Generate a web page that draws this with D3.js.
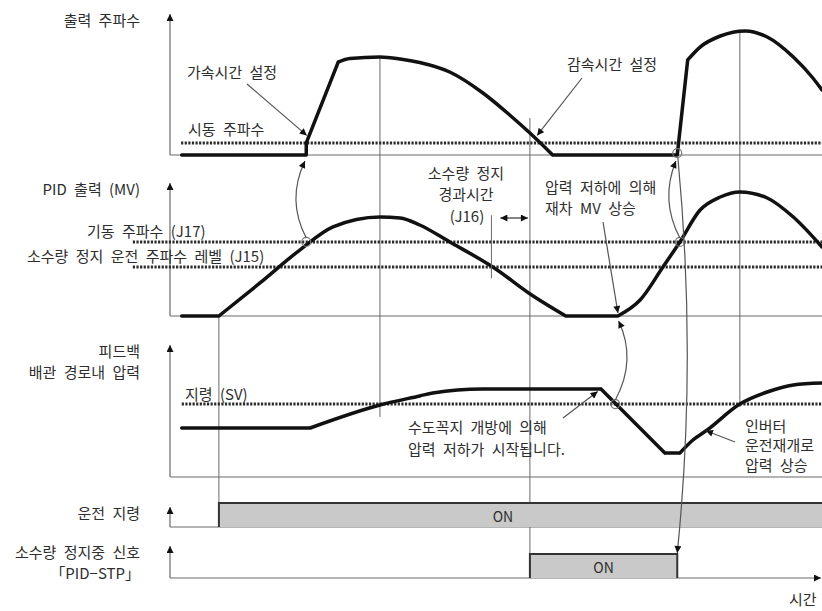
<!DOCTYPE html>
<html>
<head>
<meta charset="utf-8">
<script src="https://cdn.jsdelivr.net/npm/d3@7"></script>
<style>
  html, body { margin: 0; padding: 0; background: #fff; }
  svg { display: block; }
  text { font-family: "Noto Sans CJK KR", "Noto Sans", sans-serif; fill: #2e2e2e; font-size: 15px; word-spacing: 4px; }
</style>
</head>
<body>
<svg id="chart" width="822" height="611"></svg>
<script>
// Time runs in arbitrary units; signal levels are percent of a track's height.
const timeDomain = [0, 100];

const trackLabels = [
  ["출력 주파수"],
  ["PID 출력 (MV)"],
  ["피드백", "배관 경로내 압력"],
  ["운전 지령"],
  ["소수량 정지중 신호", "「PID−STP」"]
];

// [time, level, sharp corner (1) or smooth point (0)]
const outputFreq = [
  [1.8, 0, 1], [20.9, 0, 1], [20.9, 8.6, 1], [25.8, 66.4, 1],
  [27.6, 68.9, 0], [32.2, 70, 0], [35.3, 68.6, 0], [38.3, 66.1, 0],
  [42.9, 59.3, 0], [48.0, 44.3, 0], [52.1, 28.6, 0], [55.2, 15.7, 0],
  [58.7, 0, 1], [77.8, 0, 1], [79.4, 67.9, 1], [81.3, 77.1, 0],
  [84.4, 85, 0], [88.2, 88.6, 0], [91.6, 84.3, 0], [95.6, 70, 0],
  [98.6, 55, 0], [100, 46.4, 1]
];

const pidOutput = [
  [1.8, 0, 1], [7.5, 0, 1], [13.8, 23.6, 0], [19.9, 47.1, 0],
  [25.0, 63.6, 0], [32.2, 70.7, 0], [35.3, 70, 0], [38.3, 65, 0],
  [42.9, 52.9, 0], [49.5, 35, 0], [55.7, 14.3, 0], [60.7, 0, 1],
  [68.7, 0, 1], [72.1, 11.4, 0], [75.6, 35, 0], [78.2, 52.9, 0],
  [81.3, 75.7, 0], [84.4, 85, 0], [87.4, 88.6, 0], [91.6, 84.3, 0],
  [95.6, 70.7, 0], [100, 49.3, 1]
];

const feedbackPressure = [
  [1.8, 35, 1], [21.5, 35, 1], [32.2, 51.4, 0], [38.3, 57.9, 0],
  [40.3, 60, 0], [47.9, 62.9, 0], [66.1, 62.9, 1], [75.9, 17.1, 1],
  [78.2, 17.1, 1], [80.2, 26.4, 0], [82.4, 33.6, 0], [87.4, 52.1, 0],
  [91.6, 60.7, 0], [95.6, 65.7, 0], [100, 67.1, 1]
];

// dashed reference levels: [track, level, start time]
const thresholdLevels = [
  [0, 8.6, 1.7],    // 시동 주파수
  [1, 52.9, -5.7],  // J17
  [1, 35, -5.7],    // J15
  [2, 52.1, 1.8]    // SV
];

const runCommandOn = [7.5, 100];
const pidStopOn = [55.2, 77.8];

// vertical time markers: [time, from track, from level, to track, to level]
const timeMarkers = [
  [7.5, 1, 0, 3, 1],
  [32.2, 0, 70, 2, 42.9],
  [55.2, 0, 26.4, 4, 0],
  [87.4, 0, 88.6, 2, 50]
];

// ---- layout ----
const svg = d3.select("#chart");
const x = d3.scaleLinear().domain(timeDomain).range([170, 822]);
const trackBase = [155, 316, 477, 527, 578];
const trackTop = [12, 181, 343, 505, 544];
const yTrack = trackBase.map(b => d3.scaleLinear().domain([0, 100]).range([b, b - 140]));
const yBin = trackBase.map(b => d3.scaleLinear().domain([0, 1]).range([b, b - 24]));
const yOf = (track, level) => (track >= 3 ? yBin[track] : yTrack[track])(level);

const defs = svg.append("defs");
defs.append("marker").attr("id", "head")
  .attr("viewBox", "0 0 10 10").attr("refX", 10).attr("refY", 5)
  .attr("markerWidth", 8).attr("markerHeight", 7).attr("markerUnits", "userSpaceOnUse")
  .attr("orient", "auto-start-reverse")
  .append("path").attr("d", "M0,0 L10,5 L0,10 Z").attr("fill", "#111");

const grey = "#6a6a6a";

// time markers
svg.append("g").selectAll("line").data(timeMarkers).join("line")
  .attr("x1", d => x(d[0])).attr("x2", d => x(d[0]))
  .attr("y1", d => yOf(d[1], d[2])).attr("y2", d => yOf(d[3], d[4]))
  .attr("stroke", grey).attr("stroke-width", 1);

// axes: vertical with arrowhead, horizontal baseline
const axes = svg.append("g");
trackBase.forEach((b, i) => {
  axes.append("line").attr("x1", x(0)).attr("x2", x(0)).attr("y1", b).attr("y2", trackTop[i] + 2)
    .attr("stroke", grey).attr("stroke-width", 1.2).attr("marker-end", "url(#head)");
  const base = axes.append("line").attr("x1", x(0)).attr("x2", x(100)).attr("y1", b).attr("y2", b)
    .attr("stroke", grey).attr("stroke-width", 1.2);
  if (i === 4) base.attr("x2", x(100) - 1).attr("marker-end", "url(#head)");
});

// track labels
trackLabels.forEach((lines, i) => {
  const n = lines.length;
  const mid = i === 0 ? 21 : i === 1 ? 190 : i === 2 ? 362 : i === 3 ? 514 : 563;
  lines.forEach((s, j) => {
    svg.append("text").attr("x", 140).attr("y", mid + 5 + (j - (n - 1) / 2) * 21)
      .attr("text-anchor", "end").text(s);
  });
});

// dashed thresholds
svg.append("g").selectAll("line").data(thresholdLevels).join("line")
  .attr("x1", d => x(d[2])).attr("x2", x(100))
  .attr("y1", d => yTrack[d[0]](d[1])).attr("y2", d => yTrack[d[0]](d[1]))
  .attr("stroke", "#2a2a2a").attr("stroke-width", 3).attr("stroke-dasharray", "2.2 1.4");

// signal curves: smooth runs joined at sharp corners
function signalPath(points, yS) {
  const pieces = [];
  let cur = [points[0]];
  for (let i = 1; i < points.length; i++) {
    cur.push(points[i]);
    if (points[i][2] === 1 || i === points.length - 1) { pieces.push(cur); cur = [points[i]]; }
  }
  const gen = d3.line().x(p => x(p[0])).y(p => yS(p[1])).curve(d3.curveMonotoneX);
  return pieces.map(p => gen(p)).join("");
}
[[outputFreq, 0], [pidOutput, 1], [feedbackPressure, 2]].forEach(([pts, t]) => {
  svg.append("path").attr("d", signalPath(pts, yTrack[t]))
    .attr("fill", "none").attr("stroke", "#111").attr("stroke-width", 3.5)
    .attr("stroke-linejoin", "round").attr("stroke-linecap", "round");
});

// on/off tracks
function onBlock(track, span, closed, label, labelX) {
  const x0 = x(span[0]), x1 = x(span[1]);
  const b = yBin[track](0), t = yBin[track](1);
  svg.append("rect").attr("x", x0).attr("y", t).attr("width", x1 - x0).attr("height", b - t)
    .attr("fill", "#c9c9c9");
  svg.append("path")
    .attr("d", closed ? `M${x0},${b}V${t}H${x1}V${b}` : `M${x0},${b}V${t}H${x1}`)
    .attr("fill", "none").attr("stroke", "#333").attr("stroke-width", 2);
  svg.append("text").attr("x", labelX).attr("y", b - 5).attr("text-anchor", "middle")
    .style("font-size", "14px").text(label);
}
onBlock(3, runCommandOn, false, "ON", 503);
onBlock(4, pidStopOn, true, "ON", (x(pidStopOn[0]) + x(pidStopOn[1])) / 2);

// crossing circles
const circles = [[20.9, 1, 52.9], [78.2, 1, 52.9], [77.8, 0, 1.4], [68.3, 2, 52.1]];
svg.append("g").selectAll("circle").data(circles).join("circle")
  .attr("cx", d => x(d[0])).attr("cy", d => yTrack[d[1]](d[2])).attr("r", 4.5)
  .attr("fill", "none").attr("stroke", "#777").attr("stroke-width", 1.2);

// annotation arrows
const ann = svg.append("g").attr("fill", "none").attr("stroke", "#555").attr("stroke-width", 1.2);
const arrow = d => ann.append("path").attr("d", d).attr("marker-end", "url(#head)");
// MV reaching J17 starts the output
arrow(`M${x(20.9)},${yTrack[1](52.9) - 4} Q${x(20.9) - 20},200 ${x(20.7)},${trackBase[0] + 6}`);
arrow(`M${x(78.2)},${yTrack[1](52.9) - 4} Q${x(78.2) - 20},200 ${x(77.6)},${trackBase[0] + 6}`);
// restart ends the PID-STP signal
arrow(`M${x(77.9)},${trackBase[0] + 3} Q697,360 ${x(pidStopOn[1])},${yBin[4](1) - 1}`);
// pressure below SV raises the MV again
arrow(`M${x(68.3)},${yTrack[2](52.1) - 4} Q637,360 ${x(68.8)},${trackBase[1] + 5}`);
// label pointers
arrow(`M247,84 L${x(20.9) + 0.5},${yTrack[0](14)}`);
arrow(`M582,78 L${x(56.0) + 2},${yTrack[0](14)}`);
arrow(`M603,222 L${x(68.7)},${trackBase[1] - 3}`);
arrow(`M563,418 L${x(65.9) - 2},${yTrack[2](61)}`);
arrow(`M735,442 L${x(82.2)},${yTrack[2](33)}`);

// J16 elapsed time
svg.append("line").attr("x1", x(49.3)).attr("x2", x(49.3))
  .attr("y1", yTrack[1](72)).attr("y2", yTrack[1](27))
  .attr("stroke", grey).attr("stroke-width", 1);
svg.append("line").attr("x1", x(49.6) + 7).attr("x2", x(55.2) - 2)
  .attr("y1", yTrack[1](70)).attr("y2", yTrack[1](70))
  .attr("stroke", "#333").attr("stroke-width", 1.2)
  .attr("marker-start", "url(#head)").attr("marker-end", "url(#head)");

// annotation texts
const notes = [
  ["가속시간 설정", 187, 78, "start"],
  ["시동 주파수", 188, 135, "start"],
  ["감속시간 설정", 567, 70, "start"],
  ["기동 주파수 (J17)", 87, 237, "start"],
  ["소수량 정지 운전 주파수 레벨 (J15)", 27, 262, "start"],
  ["소수량 정지", 466, 179, "middle"],
  ["경과시간", 466, 200, "middle"],
  ["(J16)", 467, 222, "middle"],
  ["압력 저하에 의해", 545, 193, "start"],
  ["재차 MV 상승", 545, 214, "start"],
  ["지령 (SV)", 185, 400, "start"],
  ["수도꼭지 개방에 의해", 408, 433, "start"],
  ["압력 저하가 시작됩니다.", 408, 455, "start"],
  ["인버터", 745, 432, "start"],
  ["운전재개로", 745, 451, "start"],
  ["압력 상승", 745, 471, "start"],
  ["시간", 789, 605, "start"]
];
svg.append("g").selectAll("text").data(notes).join("text")
  .attr("x", d => d[1]).attr("y", d => d[2]).attr("text-anchor", d => d[3]).text(d => d[0]);
</script>
</body>
</html>
